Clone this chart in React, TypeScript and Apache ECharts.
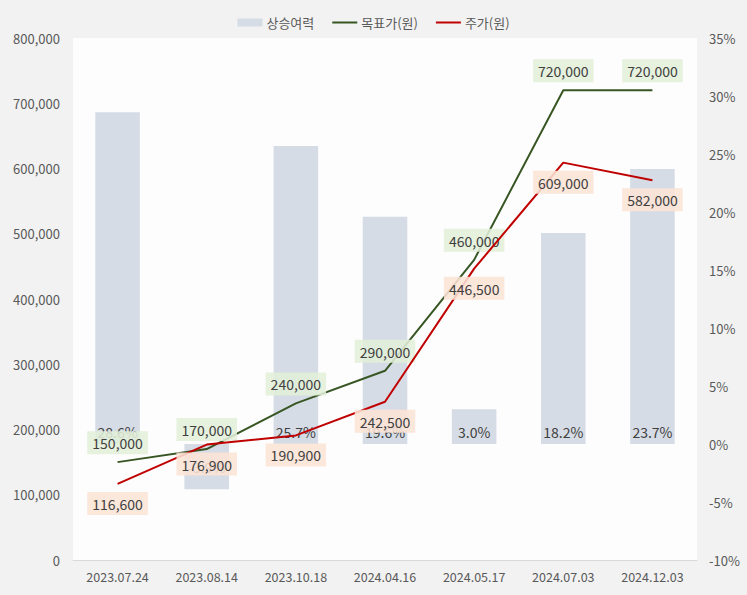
import React, { useEffect, useRef } from "react";
import * as echarts from "echarts";

const categories = ["2023.07.24", "2023.08.14", "2023.10.18", "2024.04.16", "2024.05.17", "2024.07.03", "2024.12.03"];
const upside = [28.6, -3.9, 25.7, 19.6, 3.0, 18.2, 23.7];
const targetPrice = [150000, 170000, 240000, 290000, 460000, 720000, 720000];
const stockPrice = [116600, 176900, 190900, 242500, 446500, 609000, 582000];

const FONT = "'Noto Sans CJK KR', 'Noto Sans', sans-serif";
const LINE_ICON = "path://M0,0 L0,0 M0,3 L25,3 L25,5 L0,5 Z M25,8 L25,8";

export default function App() {
  const ref = useRef<HTMLDivElement>(null);
  useEffect(() => {
    if (!ref.current) return;
    const chart = echarts.init(ref.current, null, { renderer: "svg" });
    const pt = (v: number) => ({ value: v, symbol: "circle", symbolSize: 0 });
    chart.setOption({
      animation: false,
      backgroundColor: "#f2f2f2",
      textStyle: { fontFamily: FONT },
      legend: {
        top: 11,
        left: "center",
        itemGap: 18,
        textStyle: { color: "#595959", fontSize: 13, fontFamily: FONT, padding: [0, 0, 0, -1] },
        data: [
          { name: "상승여력", icon: "rect", itemStyle: { color: "#d6dce5" } },
          { name: "목표가(원)", icon: LINE_ICON, itemStyle: { color: "#375623" } },
          { name: "주가(원)", icon: LINE_ICON, itemStyle: { color: "#c00000" } },
        ],
        itemWidth: 25,
        itemHeight: 8,
      },
      grid: {
        left: 73,
        right: 50,
        top: 38,
        bottom: 35,
        show: true,
        backgroundColor: "#fdfdfd",
        borderWidth: 0,
      },
      xAxis: {
        type: "category",
        data: categories,
        axisLine: { lineStyle: { color: "#d9d9d9" } },
        axisTick: { show: false },
        axisLabel: { color: "#595959", fontSize: 12.5, margin: 10 },
      },
      yAxis: [
        {
          type: "value",
          min: 0,
          max: 800000,
          interval: 100000,
          splitLine: { show: false },
          axisLine: { show: false },
          axisTick: { show: false },
          axisLabel: {
            color: "#595959",
            fontSize: 13,
            margin: 13,
            formatter: (v: number) => v.toLocaleString("en-US"),
          },
        },
        {
          type: "value",
          min: -10,
          max: 35,
          interval: 5,
          splitLine: { show: false },
          axisLine: { show: false },
          axisTick: { show: false },
          axisLabel: { color: "#595959", fontSize: 13, margin: 12, formatter: "{value}%" },
        },
      ],
      series: [
        {
          name: "상승여력",
          type: "bar",
          yAxisIndex: 1,
          barWidth: "50%",
          itemStyle: { color: "#d6dce5" },
          z: 1,
          data: upside.map((v) => ({
            value: v,
            label: { position: v < 0 ? "inside" : "insideBottom" },
          })),
          label: {
            show: true,
            distance: 5,
            color: "#404040",
            fontSize: 14,
            formatter: (p: any) => p.value.toFixed(1) + "%",
          },
        },
        {
          name: "목표가(원)",
          type: "line",
          yAxisIndex: 0,
          data: targetPrice.map(pt),
          symbol: "none",
          z: 3,
          itemStyle: { color: "#375623" },
          lineStyle: { color: "#375623", width: 2 },
          label: {
            show: true,
            position: "top",
            distance: 8,
            color: "#404040",
            fontSize: 14,
            backgroundColor: "rgba(226,239,218,0.88)",
            padding: [5, 5, 4, 5],
            formatter: (p: any) => p.value.toLocaleString("en-US"),
          },
        },
        {
          name: "주가(원)",
          type: "line",
          yAxisIndex: 0,
          data: stockPrice.map(pt),
          symbol: "none",
          z: 4,
          itemStyle: { color: "#c00000" },
          lineStyle: { color: "#c00000", width: 2 },
          label: {
            show: true,
            position: "bottom",
            distance: 8,
            color: "#404040",
            fontSize: 14,
            backgroundColor: "rgba(252,228,214,0.88)",
            padding: [5, 5, 4, 5],
            formatter: (p: any) => p.value.toLocaleString("en-US"),
          },
        },
      ],
    });
    return () => chart.dispose();
  }, []);
  return <div ref={ref} style={{ width: 747, height: 595, position: "absolute", left: 0, top: 0 }} />;
}
